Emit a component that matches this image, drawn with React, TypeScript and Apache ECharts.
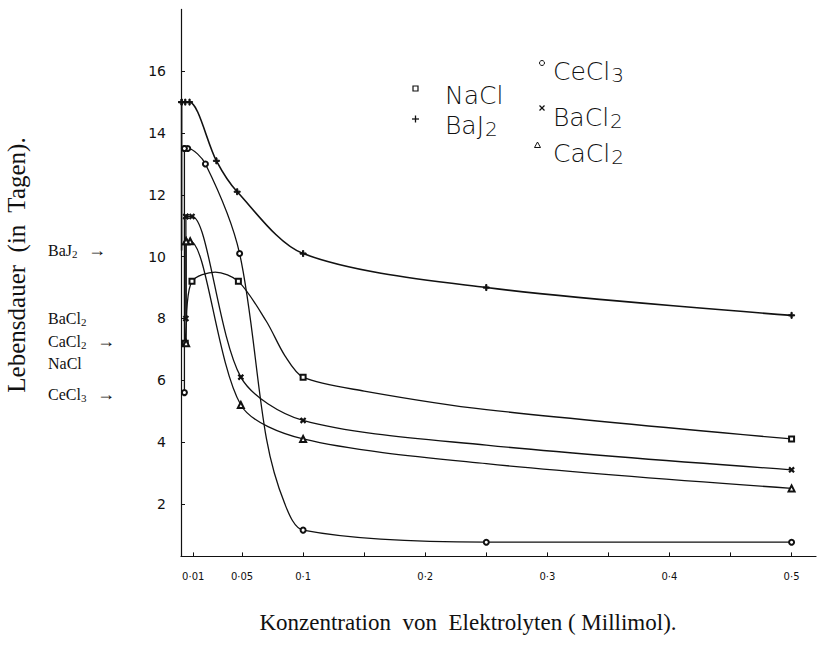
import React, { useEffect, useRef } from 'react';
import * as echarts from 'echarts';

// ---- data: [concentration, days, marker shown (1) or curve reading (0)] ----
// the first two points of each list form the vertical rise from the control value
const naclPoints = [[0.0035, 7.2, 1], [0.0045, 8.0, 0], [0.009, 9.2, 1], [0.028, 9.5, 0], [0.047, 9.2, 1], [0.07, 7.9, 0], [0.085, 6.8, 0], [0.1, 6.1, 1], [0.15, 5.65, 0], [0.25, 5.05, 0], [0.5, 4.1, 1]];
const bajPoints = [[0.0005, 10.2, 0], [0.0005, 15.0, 1], [0.0035, 15.0, 1], [0.007, 15.0, 1], [0.029, 13.1, 1], [0.046, 12.1, 1], [0.1, 10.1, 1], [0.25, 9.0, 1], [0.5, 8.1, 1]];
const cecl3Points = [[0.0028, 5.6, 1], [0.0028, 13.5, 1], [0.0055, 13.5, 1], [0.02, 13.0, 1], [0.048, 10.1, 1], [0.07, 4.1, 0], [0.085, 2.0, 0], [0.1, 1.15, 1], [0.25, 0.76, 1], [0.5, 0.76, 1]];
const bacl2Points = [[0.004, 8.0, 1], [0.004, 11.3, 1], [0.009, 11.3, 1], [0.049, 6.1, 1], [0.1, 4.7, 1], [0.25, 3.9, 0], [0.5, 3.1, 1]];
const cacl2Points = [[0.0042, 7.2, 1], [0.0042, 10.5, 1], [0.0075, 10.5, 1], [0.049, 5.2, 1], [0.1, 4.1, 1], [0.25, 3.3, 0], [0.5, 2.5, 1]];

const yLabelValues = [2, 4, 6, 8, 10, 12, 14, 16];
const xLabelValues = [0.01, 0.05, 0.1, 0.2, 0.3, 0.4, 0.5];
const xTickValues = [0.01, 0.05, 0.1, 0.15, 0.2, 0.25, 0.3, 0.35, 0.4, 0.45, 0.5];

const xTitle = 'Konzentration  von  Elektrolyten ( Millimol).';
const yTitle = 'Lebensdauer  (in  Tagen).';

const plusPath = 'path://M4,0H6V4H10V6H6V10H4V6H0V4H4Z';
const ink = '#111111';

export default function App() {
  const ref = useRef<HTMLDivElement>(null);
  useEffect(() => {
    if (!ref.current) return;
    const chart = echarts.init(ref.current, null, { renderer: 'svg' });
    const toData = (pts: number[][]) =>
      pts.map((p) => (p[2] ? { value: [p[0], p[1]] } : { value: [p[0], p[1]], symbol: 'none' }));
    const mkSeries = (name: string, pts: number[][], symbol: string, size: number, rotate = 0, width = 1.3) => {
      const common = {
        type: 'line',
        symbol,
        symbolSize: size,
        symbolRotate: rotate,
        showAllSymbol: true,
        lineStyle: { color: ink, width },
        itemStyle: { color: ink, borderColor: ink, borderWidth: 1 },
        z: 3,
      };
      return [
        { ...common, name, data: toData(pts.slice(1)), smooth: 0.3 },
        { ...common, name: name + ' ', data: toData(pts.slice(0, 2)), smooth: false },
      ];
    };
    const serif = '"Liberation Serif", "DejaVu Serif", serif';
    const hand = '"DejaVu Sans", sans-serif';
    const legendText = (x: number, y: number, base: string, sub: string) => ({
      type: 'text', x, y,
      style: {
        text: sub ? `{a|${base}}{b|${sub}}` : `{a|${base}}`,
        rich: {
          a: { fontFamily: hand, fontSize: 25, fontWeight: 'lighter', fill: ink },
          b: { fontFamily: hand, fontSize: 20, fontWeight: 'lighter', fill: ink, padding: [7, 0, 0, 1] },
        },
        verticalAlign: 'middle',
      },
    });
    const sideLabel = (x: number, y: number, base: string, sub: string, arrow: boolean) => ({
      type: 'text', x, y,
      style: {
        text: `{a|${base}}${sub ? `{b|${sub}}` : ''}${arrow ? '{c| →}' : ''}`,
        rich: {
          a: { fontFamily: serif, fontSize: 16, fill: ink },
          b: { fontFamily: serif, fontSize: 11, fill: ink, padding: [8, 0, 0, 0] },
          c: { fontFamily: serif, fontSize: 18, fill: ink, padding: [0, 0, 0, 6] },
        },
        verticalAlign: 'middle',
      },
    });
    const option = {
      animation: false,
      backgroundColor: '#fff',
      grid: { left: 181, top: 9.4, width: 635, height: 547 },
      xAxis: {
        type: 'value', min: 0, max: 0.52,
        axisLine: { show: true, onZero: false, lineStyle: { color: ink, width: 1.2 } },
        splitLine: { show: false },
        axisTick: { show: true, inside: true, length: 4, customValues: xTickValues, lineStyle: { color: ink } },
        axisLabel: {
          customValues: xLabelValues, margin: 15, fontSize: 10, color: ink, fontFamily: hand,
          formatter: (v: number) => String(v).replace('.', '·'),
        },
      },
      yAxis: {
        type: 'value', min: 0.3, max: 18,
        axisLine: { show: true, onZero: false, lineStyle: { color: ink, width: 1.2 } },
        splitLine: { show: false },
        axisTick: { show: true, inside: true, length: 4, customValues: yLabelValues, lineStyle: { color: ink } },
        axisLabel: { customValues: yLabelValues, margin: 15, fontSize: 14, color: ink, fontFamily: hand },
      },
      series: [
        ...mkSeries('NaCl', naclPoints, 'emptyRect', 5),
        ...mkSeries('BaJ2', bajPoints, plusPath, 6, 0, 1.6),
        ...mkSeries('CeCl3', cecl3Points, 'emptyCircle', 5),
        ...mkSeries('BaCl2', bacl2Points, plusPath, 6, 45),
        ...mkSeries('CaCl2', cacl2Points, 'emptyTriangle', 6),
      ],
      graphic: [
        // legend marks
        { type: 'rect', shape: { x: 413, y: 86, width: 5, height: 5 }, style: { fill: 'none', stroke: ink, lineWidth: 1.2 } },
        { type: 'line', shape: { x1: 412, y1: 119, x2: 419, y2: 119 }, style: { stroke: ink, lineWidth: 1.3 } },
        { type: 'line', shape: { x1: 415.5, y1: 115.5, x2: 415.5, y2: 122.5 }, style: { stroke: ink, lineWidth: 1.3 } },
        { type: 'circle', shape: { cx: 542, cy: 63, r: 2.5 }, style: { fill: 'none', stroke: ink, lineWidth: 1 } },
        { type: 'line', shape: { x1: 539.5, y1: 105.5, x2: 544.5, y2: 110.5 }, style: { stroke: ink, lineWidth: 1.3 } },
        { type: 'line', shape: { x1: 544.5, y1: 105.5, x2: 539.5, y2: 110.5 }, style: { stroke: ink, lineWidth: 1.3 } },
        { type: 'polygon', shape: { points: [[537.5, 142], [534.5, 147.5], [540.5, 147.5]] }, style: { fill: 'none', stroke: ink, lineWidth: 1 } },
        legendText(445, 95, 'NaCl', ''),
        legendText(445, 125, 'BaJ', '2'),
        legendText(553, 71, 'CeCl', '3'),
        legendText(553, 117, 'BaCl', '2'),
        legendText(553, 153, 'CaCl', '2'),
        // side annotations
        sideLabel(48, 250, 'BaJ', '2', true),
        sideLabel(48, 318, 'BaCl', '2', false),
        sideLabel(48, 341, 'CaCl', '2', true),
        sideLabel(48, 363, 'NaCl', '', false),
        sideLabel(48, 394, 'CeCl', '3', true),
        // axis titles
        {
          type: 'text', x: 16, y: 265, rotation: Math.PI / 2,
          style: { text: yTitle, fontFamily: serif, fontSize: 25, fill: ink, align: 'center', verticalAlign: 'middle' },
        },
        {
          type: 'text', x: 468, y: 622,
          style: { text: xTitle, fontFamily: serif, fontSize: 23, fill: ink, align: 'center', verticalAlign: 'middle' },
        },
      ],
    };
    chart.setOption(option as any);
    return () => chart.dispose();
  }, []);
  return <div ref={ref} style={{ position: 'absolute', left: 0, top: 0, width: 831, height: 648 }} />;
}
